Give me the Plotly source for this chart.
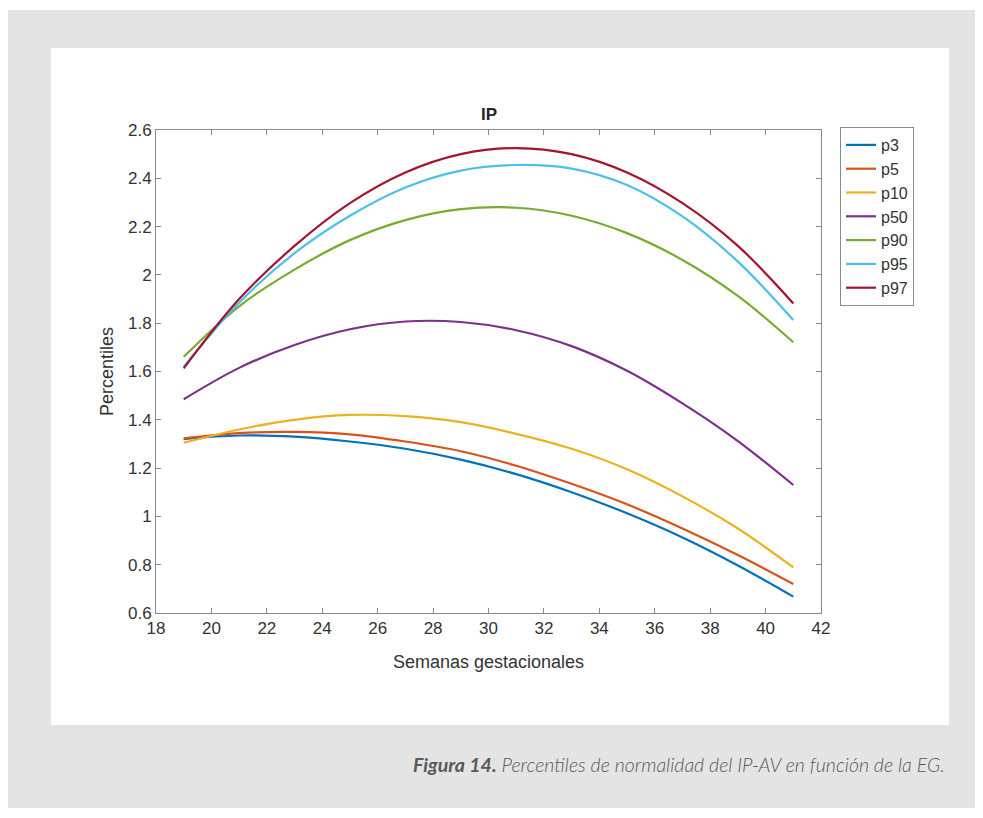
import plotly.graph_objects as go

# Weeks (semanas gestacionales)
weeks = [19, 21, 23, 25, 27, 29, 31, 33, 35, 37, 39, 41]

p3 = [1.320, 1.335, 1.330, 1.310, 1.280, 1.235, 1.175, 1.100, 1.013, 0.913, 0.797, 0.668]
p5 = [1.323, 1.345, 1.350, 1.340, 1.310, 1.270, 1.210, 1.135, 1.050, 0.950, 0.840, 0.720]
p10 = [1.305, 1.360, 1.400, 1.420, 1.415, 1.390, 1.342, 1.280, 1.195, 1.083, 0.950, 0.789]
p50 = [1.485, 1.615, 1.710, 1.775, 1.807, 1.805, 1.771, 1.705, 1.603, 1.468, 1.312, 1.130]
p90 = [1.661, 1.870, 2.022, 2.144, 2.227, 2.272, 2.278, 2.245, 2.173, 2.062, 1.913, 1.721]
p95 = [1.620, 1.885, 2.090, 2.245, 2.362, 2.432, 2.455, 2.440, 2.372, 2.242, 2.055, 1.813]
p97 = [1.613, 1.900, 2.120, 2.297, 2.424, 2.500, 2.525, 2.500, 2.424, 2.297, 2.120, 1.882]

series_names = ["p3", "p5", "p10", "p50", "p90", "p95", "p97"]
series_values = [p3, p5, p10, p50, p90, p95, p97]
colors = ["#0072BD", "#D95319", "#EDB120", "#7E2F8E", "#77AC30", "#4DBEEE", "#A2142F"]

x_ticks = [18, 20, 22, 24, 26, 28, 30, 32, 34, 36, 38, 40, 42]
y_ticks = [0.6, 0.8, 1.0, 1.2, 1.4, 1.6, 1.8, 2.0, 2.2, 2.4, 2.6]
y_tick_text = ["0.6", "0.8", "1", "1.2", "1.4", "1.6", "1.8", "2", "2.2", "2.4", "2.6"]

W, H = 983, 818
L, R, T, B = 156, 821, 130, 613


def px(xp):
    return (xp - L) / (R - L)


def py(yp):
    return (B - yp) / (B - T)


fig = go.Figure()
for name, vals, col in zip(series_names, series_values, colors):
    fig.add_trace(go.Scatter(
        x=weeks, y=vals, name=name, mode="lines",
        line=dict(color=col, width=2.2, shape="spline", smoothing=1.0),
    ))

axis_common = dict(
    showline=True, linecolor="#8a8a8a", linewidth=1, mirror="ticks",
    ticks="inside", ticklen=5, tickcolor="#8a8a8a", tickwidth=1,
    showgrid=False, zeroline=False,
    tickfont=dict(family="Liberation Sans, Arial, sans-serif", size=17, color="#333333"),
)

fig.update_layout(
    width=W, height=H,
    margin=dict(l=L, r=W - R, t=T, b=H - B),
    paper_bgcolor="white", plot_bgcolor="white",
    showlegend=True,
    legend=dict(
        x=px(840), y=py(127), xanchor="left", yanchor="top",
        bgcolor="white", bordercolor="#8a8a8a", borderwidth=1,
        font=dict(family="Liberation Sans, Arial, sans-serif", size=16, color="#333333"),
        tracegroupgap=0,
    ),
    xaxis=dict(range=[18, 42], tickvals=x_ticks, **axis_common),
    yaxis=dict(range=[0.6, 2.6], tickvals=y_ticks, ticktext=y_tick_text, **axis_common),
    shapes=[
        dict(type="rect", xref="paper", yref="paper", layer="below",
             x0=px(8), x1=px(975), y0=py(808), y1=py(10),
             fillcolor="#e3e4e3", line=dict(width=0)),
        dict(type="rect", xref="paper", yref="paper", layer="below",
             x0=px(51), x1=px(949), y0=py(725), y1=py(48),
             fillcolor="white", line=dict(width=0)),
    ],
    annotations=[
        dict(text="<b>IP</b>", xref="paper", yref="paper", x=px(489), y=py(114),
             xanchor="center", yanchor="middle", showarrow=False,
             font=dict(family="Liberation Sans, Arial, sans-serif", size=17, color="#262626")),
        dict(text="Semanas gestacionales", xref="paper", yref="paper", x=px(488), y=py(662),
             xanchor="center", yanchor="middle", showarrow=False,
             font=dict(family="Liberation Sans, Arial, sans-serif", size=18, color="#333333")),
        dict(text="Percentiles", xref="paper", yref="paper", x=px(107), y=py(372),
             xanchor="center", yanchor="middle", showarrow=False, textangle=-90,
             font=dict(family="Liberation Sans, Arial, sans-serif", size=18, color="#333333")),
        dict(text="<b>Figura 14.</b> Percentiles de normalidad del IP-AV en función de la EG.",
             xref="paper", yref="paper", x=px(947), y=py(764),
             xanchor="right", yanchor="middle", showarrow=False,
             font=dict(family="Lato, Noto Sans, sans-serif", size=19.5, color="#58595b",
                       style="italic", weight=300)),
    ],
)

fig.write_html("out.html")
